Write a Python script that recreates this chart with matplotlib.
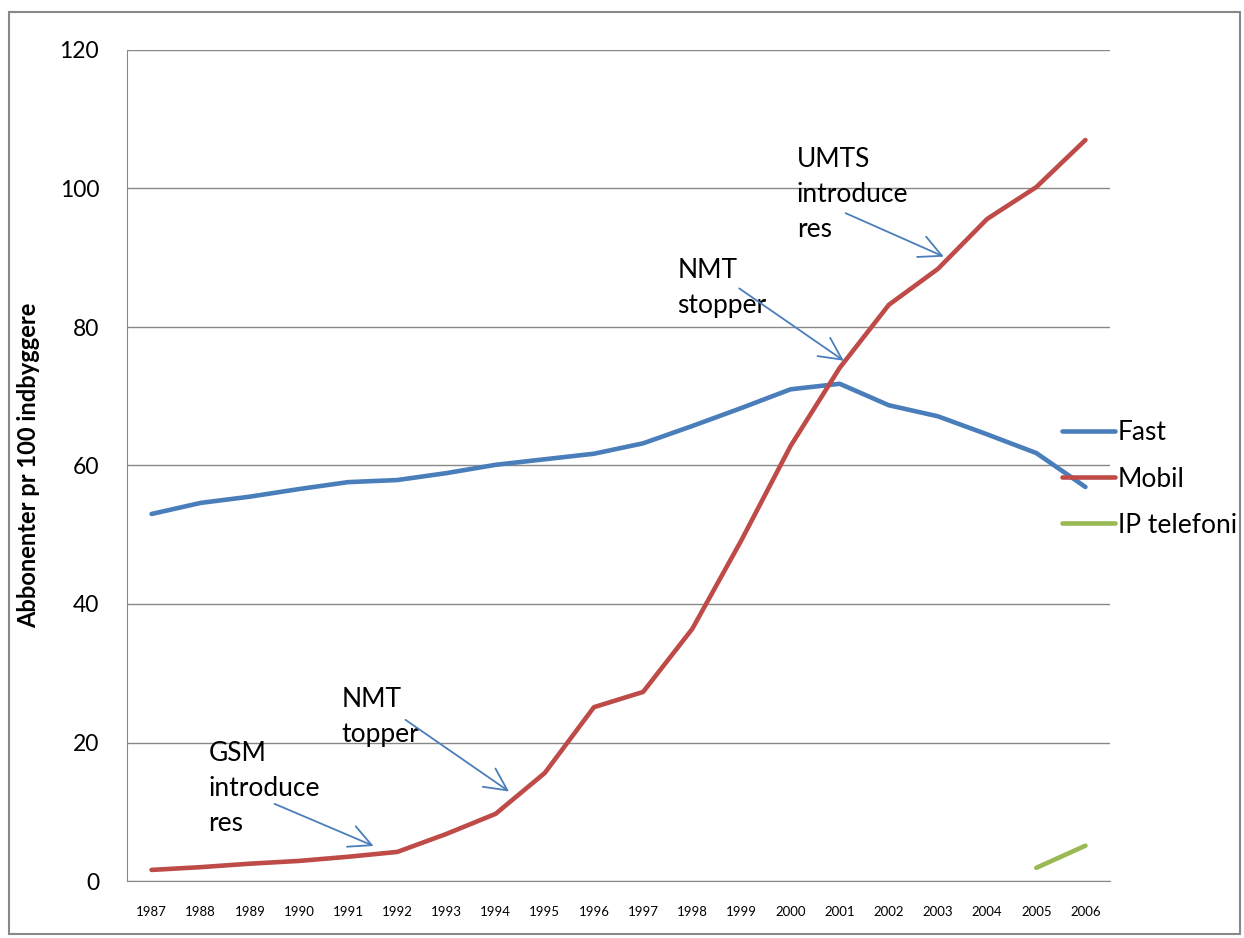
import matplotlib.pyplot as plt
from matplotlib.patches import Rectangle

plt.rcParams['font.family'] = ['Lato', 'DejaVu Sans']

years = [str(y) for y in range(1987, 2007)]
fast = [53.0, 54.6, 55.5, 56.6, 57.6, 57.9, 58.9, 60.1, 60.9, 61.7,
        63.2, 65.7, 68.3, 71.0, 71.8, 68.7, 67.1, 64.5, 61.8, 56.9]
mobil = [1.6, 2.0, 2.5, 2.9, 3.5, 4.2, 6.8, 9.7, 15.6, 25.1,
         27.3, 36.4, 49.2, 62.8, 74.1, 83.2, 88.4, 95.6, 100.2, 107.0]
ip_years = ['2005', '2006']
ip_tel = [1.9, 5.1]

fig = plt.figure(figsize=(12.44, 9.38), dpi=100)
ax = fig.add_axes([127 / 1244, 1 - 881 / 938, (1110 - 127) / 1244, (881 - 50) / 938])

x = list(range(len(years)))
ip_x = [years.index(y) for y in ip_years]
ax.plot(x, fast, color='#4A7EBB', lw=3.3, label='Fast', solid_capstyle='round')
ax.plot(x, mobil, color='#BE4B48', lw=3.3, label='Mobil', solid_capstyle='round')
ax.plot(ip_x, ip_tel, color='#98B954', lw=3.3, label='IP telefoni', solid_capstyle='round')

ax.set_xlim(-0.5, len(years) - 0.5)
ax.set_ylim(0, 120)
ax.set_yticks(range(0, 121, 20))
ax.set_xticks(x)
ax.set_xticklabels(years, fontsize=9.5)
ax.tick_params(axis='y', labelsize=16.5, length=0, pad=20)
ax.tick_params(axis='x', length=0, pad=18)
ax.grid(axis='y', color='#888888', lw=1)
ax.set_axisbelow(True)
for s in ['top', 'right']:
    ax.spines[s].set_visible(False)
for s in ['left', 'bottom']:
    ax.spines[s].set_color('#888888')
ax.set_ylabel('Abbonenter pr 100 indbyggere', fontsize=17, fontweight='bold', labelpad=14)

arrow = dict(arrowstyle='->', color='#4A7EBB', lw=1.3, mutation_scale=40)
notes = [
    ('GSM\nintroduce\nres', (1.16, 13.3), (2.45, 11.3), (4.57, 4.9)),
    ('NMT\ntopper', (3.87, 23.7), (5.12, 23.5), (7.32, 12.7)),
    ('NMT\nstopper', (10.70, 85.6), (11.91, 85.8), (14.13, 74.9)),
    ('UMTS\nintroduce\nres', (13.13, 99.2), (14.07, 96.6), (16.17, 90.0)),
]
for txt, tpos, a0, a1 in notes:
    ax.text(tpos[0], tpos[1], txt, fontsize=19, va='center', ha='left', linespacing=1.5)
    ax.annotate('', xy=a1, xytext=a0, arrowprops=arrow)

fig.legend(loc='center left', bbox_to_anchor=(1038 / 1244, 1 - 479 / 938), frameon=False,
           fontsize=19, handlelength=2.0, handletextpad=0.12, labelspacing=0.8)

fig.patches.append(Rectangle((9 / 1244, 4 / 938), 1 - 13 / 1244, 1 - 16 / 938,
                             transform=fig.transFigure, fill=False, edgecolor='#888888', lw=1.5))

fig.savefig('out.png', dpi=100)
